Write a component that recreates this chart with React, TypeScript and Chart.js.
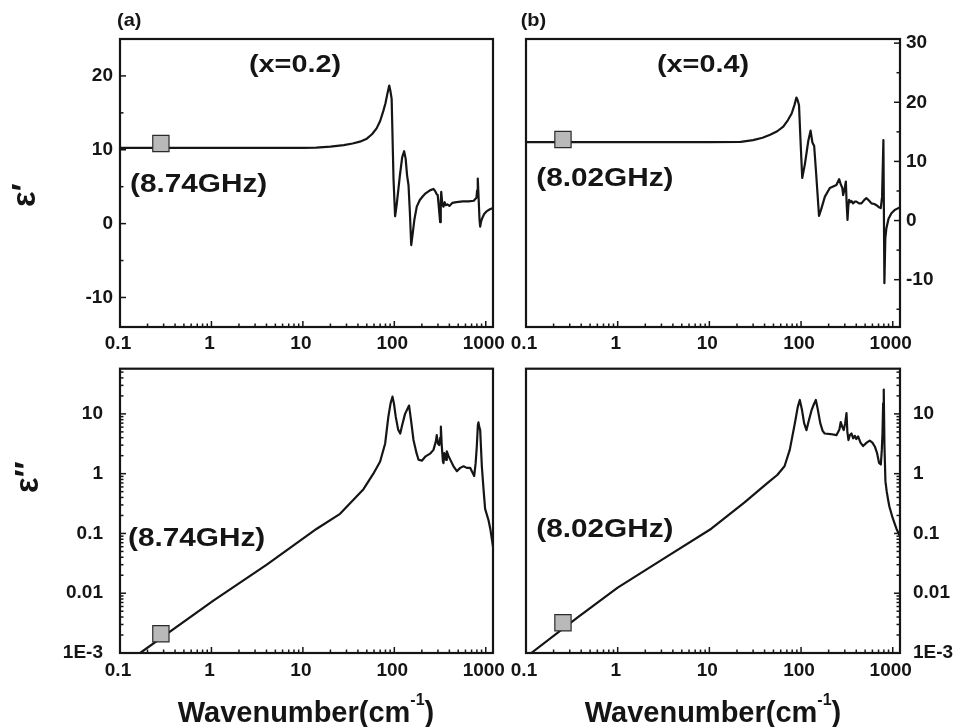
import React, { useEffect, useRef } from 'react';
import { Chart, registerables } from 'chart.js';

Chart.register(...registerables);

// ---------------- data ----------------
// (a) x = 0.2, real part
const wavenumberReA = [0.1, 1, 10, 14, 20, 28, 35, 42, 50, 57, 64, 70, 76, 80, 84, 88, 90.5, 93.5, 98, 102, 106, 115, 122, 128, 133, 138, 143, 148, 153, 158, 166, 176, 190, 205, 220, 245, 268, 280, 290, 298, 308, 317, 322, 326, 335, 345, 355, 365, 380, 400, 430, 480, 560, 650, 740, 790, 805, 818, 835, 855, 869, 890, 920, 960, 1030, 1110, 1200];
const epsilonReA = [10.27, 10.27, 10.27, 10.3, 10.42, 10.62, 10.85, 11.1, 11.5, 12.1, 12.9, 13.9, 15.3, 16.3, 17.6, 18.7, 18.0, 16.9, 6, 1.0, 2.5, 6.5, 9.0, 9.8, 8.8, 6.5, 5.2, 1.5, -2.9, -1.6, 0.6, 2.3, 3.2, 3.7, 4.1, 4.5, 4.7, 4.4, 4.0, 3.9, 2.0, 0.2, 3.0, 4.3, 2.6, 2.3, 2.9, 2.5, 2.6, 2.4, 2.8, 2.9, 3.0, 3.0, 3.1, 3.5, 4.5, 6.1, 3.5, 0.5, -0.4, 0.3, 0.8, 1.3, 1.7, 1.95, 2.1];

// (b) x = 0.4, real part
const wavenumberReB = [0.1, 10, 22, 30, 38, 46, 55, 64, 72, 79, 85, 89, 92, 95, 99, 103, 110, 120, 127, 133, 139, 146, 157, 165, 182, 206, 243, 260, 270, 282, 288, 300, 308, 314, 321, 328, 334, 345, 355, 369, 385, 402, 430, 456, 490, 516, 550, 586, 630, 664, 700, 740, 765, 791, 811, 830, 853, 900, 967, 1050, 1150, 1200];
const epsilonReB = [13.25, 13.25, 13.3, 13.6, 14.0, 14.5, 15.1, 15.9, 17.0, 18.1, 19.6, 20.8, 20.3, 19.5, 13, 7.2, 9.5, 13.5, 15.2, 13.2, 12.6, 8, 0.8, 1.8, 4.05, 5.5, 6.0, 7.0, 6.2, 5.5, 4.3, 5.5, 6.6, 3, 0.1, 2.5, 3.5, 3.1, 3.3, 2.9, 3.2, 3.2, 2.9, 2.9, 3.5, 3.8, 3.4, 2.9, 2.8, 2.6, 2.3, 2.1, 4.0, 13.6, -10.6, -3, -1.3, 0.3, 1.25, 1.8, 2.1, 2.2];

// (a) x = 0.2, imaginary part
const wavenumberImA = [0.166, 1.05, 4.03, 14.2, 25.5, 46, 59, 70, 79.4, 86, 91, 95.5, 99, 103.7, 110, 116, 122, 131, 145, 152, 162, 175, 184, 200, 220, 246, 268, 285, 291, 300, 310, 318, 323, 330, 340, 345, 352, 360, 368, 375, 390, 410, 444, 483, 525, 571, 620, 675, 705, 747, 775, 798, 820, 832, 850, 869, 906, 950, 984, 1072, 1120, 1200];
const epsilonImA = [0.001, 0.0075, 0.030, 0.12, 0.213, 0.55, 1.0, 1.6, 3.2, 8.9, 15, 19.4, 15, 8.9, 5.5, 4.7, 6.5, 10, 13.8, 8, 3.66, 2.2, 1.71, 1.65, 1.95, 2.16, 2.5, 3.5, 4.4, 3.2, 3.0, 4.0, 6.1, 3.0, 1.6, 1.5, 2.2, 2.1, 1.7, 2.36, 2.0, 1.7, 1.33, 1.1, 1.25, 1.33, 1.25, 1.25, 1.1, 0.91, 1.5, 2.85, 6.5, 7.2, 6, 5.35, 1.33, 0.5, 0.257, 0.166, 0.12, 0.06];

// (b) x = 0.4, imaginary part
const wavenumberImB = [0.114, 0.369, 1.0, 3.24, 10.5, 24.2, 43.5, 55, 66, 75.3, 85.5, 92, 96.9, 102, 108, 114.5, 121, 130, 138, 145, 152, 162, 172, 181, 210, 243, 262, 271, 282, 292, 303, 313, 320, 329, 340, 355, 370, 385, 400, 419, 445, 475, 520, 561, 600, 637, 675, 710, 741, 760, 773, 786, 798, 812, 832, 860, 889, 920, 1000, 1097, 1160, 1200];
const epsilonImB = [0.001, 0.004, 0.0124, 0.0386, 0.12, 0.332, 0.71, 0.95, 1.33, 2.5, 6.9, 13, 17.1, 12, 7, 5.35, 7.5, 11.4, 14.5, 17.1, 12, 7, 5.2, 4.7, 4.6, 4.4, 5.5, 7.3, 6.0, 5.35, 7, 10.3, 5, 3.65, 4.4, 4.7, 3.9, 4.3, 3.8, 4.2, 3.3, 2.9, 3.3, 3.57, 3.3, 2.85, 2.2, 1.51, 1.42, 2.5, 4.7, 15, 25.6, 3, 0.75, 0.5, 0.37, 0.28, 0.18, 0.12, 0.1, 0.09];

// microwave points (grey squares)
const markerWaveA = 0.28;
const markerReA = 10.85;
const markerImA = 0.0021;
const markerWaveB = 0.253;
const markerReB = 13.7;
const markerImB = 0.0032;

// ticks
const xTickValues = [0.1, 1, 10, 100, 1000];
const xTickLabels = ['0.1', '1', '10', '100', '1000'];
const realTicksA = [-10, 0, 10, 20];
const realLabelsA = ['-10', '0', '10', '20'];
const realTicksB = [-10, 0, 10, 20, 30];
const realLabelsB = ['-10', '0', '10', '20', '30'];
const logTickValues = [0.001, 0.01, 0.1, 1, 10];
const logTickLabels = ['1E-3', '0.01', '0.1', '1', '10'];

// ---------------- styling ----------------
const X_MIN = 0.1;
const X_MAX = 1200;
const INK = '#151515';
const FAMILY = '"Liberation Sans", Arial, Helvetica, sans-serif';
const MAJOR = 6;
const MINOR = 3.5;

function logMinors(min: number, max: number) {
  const out: number[] = [];
  for (let d = -4; d <= 4; d++) {
    for (let k = 2; k <= 9; k++) {
      const v = k * Math.pow(10, d);
      if (v > min * 1.0001 && v < max * 0.9999) out.push(v);
    }
  }
  return out;
}
function linMinors(min: number, max: number) {
  const out: number[] = [];
  for (let v = -35; v <= 35; v += 10) if (v > min && v < max) out.push(v);
  return out;
}

function makeFramePlugin(cfg: any) {
  return {
    id: 'frameTicks',
    afterDraw(chart: any) {
      const { ctx, chartArea: a } = chart;
      const xs = chart.scales.x;
      const ys = chart.scales.y;
      ctx.save();
      ctx.strokeStyle = INK;
      ctx.lineWidth = 1.5;
      const seg = (x1: number, y1: number, x2: number, y2: number) => {
        ctx.beginPath();
        ctx.moveTo(x1, y1);
        ctx.lineTo(x2, y2);
        ctx.stroke();
      };
      for (const v of xTickValues) {
        const p = xs.getPixelForValue(v);
        seg(p, a.bottom, p, a.bottom - MAJOR);
      }
      for (const v of logMinors(X_MIN, X_MAX)) {
        const p = xs.getPixelForValue(v);
        seg(p, a.bottom, p, a.bottom - MINOR);
      }
      const edge = cfg.yPos === 'left' ? a.left : a.right;
      const dir = cfg.yPos === 'left' ? 1 : -1;
      for (const v of cfg.yTicks) {
        const p = ys.getPixelForValue(v);
        seg(edge, p, edge + dir * MAJOR, p);
      }
      const minors = cfg.yType === 'logarithmic' ? logMinors(cfg.yMin, cfg.yMax) : linMinors(cfg.yMin, cfg.yMax);
      for (const v of minors) {
        const p = ys.getPixelForValue(v);
        seg(edge, p, edge + dir * MINOR, p);
      }
      ctx.lineWidth = 2.2;
      ctx.strokeRect(a.left, a.top, a.right - a.left, a.bottom - a.top);
      ctx.restore();
    },
  };
}

function makeTextPlugin(texts: any[]) {
  return {
    id: 'panelTexts',
    afterDraw(chart: any) {
      const ctx = chart.ctx;
      ctx.save();
      ctx.fillStyle = INK;
      ctx.textBaseline = 'alphabetic';
      ctx.textAlign = 'left';
      for (const item of texts) {
        ctx.save();
        ctx.translate(item.x, item.y);
        if (item.rot) ctx.rotate(-Math.PI / 2);
        ctx.scale(item.sx || 1, 1);
        let total = 0;
        const widths = item.parts.map((p: any) => {
          ctx.font = `bold ${p.size}px ${FAMILY}`;
          const wd = ctx.measureText(p.t).width;
          total += wd;
          return wd;
        });
        let cx = item.align === 'center' ? -total / 2 : 0;
        item.parts.forEach((p: any, i: number) => {
          ctx.font = `bold ${p.size}px ${FAMILY}`;
          ctx.fillText(p.t, cx, p.dy || 0);
          cx += widths[i];
        });
        ctx.restore();
      }
      ctx.restore();
    },
  };
}

function makeChart(canvas: HTMLCanvasElement, cfg: any) {
  const { w, h, area } = cfg;
  const yLeft = cfg.yPos === 'left';
  const yBox = yLeft ? area.l : w - area.r;
  const xBox = h - area.b;
  const tickFont = { family: FAMILY, size: 19, weight: 'bold' as const };
  const zeroPad = (s: any) => {
    s.paddingLeft = 0;
    s.paddingRight = 0;
    s.paddingTop = 0;
    s.paddingBottom = 0;
  };
  return new Chart(canvas, {
    type: 'line',
    data: {
      datasets: [
        {
          data: [{ x: cfg.markerX, y: cfg.markerY }],
          showLine: false,
          pointStyle: 'rect',
          pointRadius: 11.5,
          pointHoverRadius: 11.5,
          pointBackgroundColor: '#b9b9b9',
          pointBorderColor: '#2b2b2b',
          pointBorderWidth: 1.2,
          order: 0,
          clip: false,
        } as any,
        {
          data: cfg.xs.map((x: number, i: number) => ({ x, y: cfg.ys[i] })),
          borderColor: INK,
          borderWidth: 2.2,
          pointRadius: 0,
          tension: 0,
          fill: false,
          order: 1,
          borderJoinStyle: 'round',
        } as any,
      ],
    },
    options: {
      animation: false,
      responsive: false,
      devicePixelRatio: 1,
      events: [],
      layout: {
        padding: { left: yLeft ? 0 : area.l, right: yLeft ? w - area.r : 0, top: area.t, bottom: 0 },
      },
      plugins: { legend: { display: false }, tooltip: { enabled: false }, title: { display: false } },
      scales: {
        x: {
          type: 'logarithmic',
          position: 'bottom',
          min: X_MIN,
          max: X_MAX,
          grid: { display: false, drawTicks: false },
          border: { display: false },
          ticks: {
            autoSkip: false,
            maxRotation: 0,
            minRotation: 0,
            padding: cfg.xPad,
            labelOffset: -2,
            color: INK,
            font: tickFont,
            callback: (_v: any, i: number) => xTickLabels[i],
          },
          afterBuildTicks: (s: any) => {
            s.ticks = xTickValues.map((value) => ({ value }));
          },
          afterFit: (s: any) => {
            s.height = xBox;
            zeroPad(s);
          },
        },
        y: {
          type: cfg.yType,
          position: cfg.yPos,
          min: cfg.yMin,
          max: cfg.yMax,
          grid: { display: false, drawTicks: false },
          border: { display: false },
          ticks: {
            autoSkip: false,
            padding: cfg.yPad,
            color: INK,
            font: tickFont,
            callback: (_v: any, i: number) => cfg.yLabels[i],
          },
          afterBuildTicks: (s: any) => {
            s.ticks = cfg.yTicks.map((value: number) => ({ value }));
          },
          afterFit: (s: any) => {
            s.width = yBox;
            zeroPad(s);
          },
        },
      } as any,
    },
    plugins: [makeFramePlugin(cfg), makeTextPlugin(cfg.texts)],
  } as any);
}

const titleParts = [
  { t: 'Wavenumber(cm', size: 29 },
  { t: '-1', size: 16, dy: -17 },
  { t: ')', size: 29 },
];

const PANELS = [
  {
    key: 'a-re', left: 0, top: 0, w: 520, h: 356,
    area: { l: 120, t: 39, r: 493, b: 327 },
    yType: 'linear', yPos: 'left', yMin: -14, yMax: 25, yTicks: realTicksA, yLabels: realLabelsA, yPad: 7, xPad: 5,
    xs: wavenumberReA, ys: epsilonReA, markerX: markerWaveA, markerY: markerReA,
    texts: [
      { parts: [{ t: '(a)', size: 19 }], x: 117, y: 26, sx: 1.05 },
      { parts: [{ t: '(x=0.2)', size: 24 }], x: 295, y: 71.5, align: 'center', sx: 1.2 },
      { parts: [{ t: '(8.74GHz)', size: 25 }], x: 130, y: 191.5, sx: 1.19 },
      { parts: [{ t: 'ε′', size: 33 }], x: 35, y: 207, rot: true },
    ],
  },
  {
    key: 'b-re', left: 470, top: 0, w: 487, h: 356,
    area: { l: 56, t: 39, r: 430, b: 327 },
    yType: 'linear', yPos: 'right', yMin: -18, yMax: 30.7, yTicks: realTicksB, yLabels: realLabelsB, yPad: 6, xPad: 5,
    xs: wavenumberReB, ys: epsilonReB, markerX: markerWaveB, markerY: markerReB,
    texts: [
      { parts: [{ t: '(b)', size: 19 }], x: 50.7, y: 26, sx: 1.05 },
      { parts: [{ t: '(x=0.4)', size: 24 }], x: 233, y: 71.5, align: 'center', sx: 1.2 },
      { parts: [{ t: '(8.02GHz)', size: 25 }], x: 66.3, y: 186, sx: 1.19 },
    ],
  },
  {
    key: 'a-im', left: 0, top: 356, w: 520, h: 371,
    area: { l: 120, t: 8, r: 493, b: 297 },
    yType: 'logarithmic', yPos: 'left', yMin: 0.001, yMax: 57, yTicks: logTickValues, yLabels: logTickLabels, yPad: 17, xPad: 6,
    xs: wavenumberImA, ys: epsilonImA, markerX: markerWaveA, markerY: markerImA,
    texts: [
      { parts: [{ t: '(8.74GHz)', size: 25 }], x: 128, y: 190, sx: 1.19 },
      { parts: [{ t: 'ε″', size: 33 }], x: 38, y: 137, rot: true },
      { parts: titleParts, x: 306, y: 366, align: 'center' },
    ],
  },
  {
    key: 'b-im', left: 470, top: 356, w: 487, h: 371,
    area: { l: 56, t: 8, r: 430, b: 297 },
    yType: 'logarithmic', yPos: 'right', yMin: 0.001, yMax: 57, yTicks: logTickValues, yLabels: logTickLabels, yPad: 13, xPad: 6,
    xs: wavenumberImB, ys: epsilonImB, markerX: markerWaveB, markerY: markerImB,
    texts: [
      { parts: [{ t: '(8.02GHz)', size: 25 }], x: 66.3, y: 181, sx: 1.19 },
      { parts: titleParts, x: 243, y: 366, align: 'center' },
    ],
  },
];

function Panel({ cfg }: { cfg: any }) {
  const ref = useRef<HTMLCanvasElement | null>(null);
  useEffect(() => {
    if (!ref.current) return;
    const chart = makeChart(ref.current, cfg);
    return () => chart.destroy();
  }, [cfg]);
  return (
    <canvas
      ref={ref}
      width={cfg.w}
      height={cfg.h}
      style={{ position: 'absolute', left: cfg.left, top: cfg.top, width: cfg.w, height: cfg.h }}
    />
  );
}

export default function App() {
  return (
    <div style={{ position: 'absolute', left: 0, top: 0, width: 957, height: 727, background: '#ffffff', overflow: 'hidden' }}>
      {PANELS.map((p) => (
        <Panel key={p.key} cfg={p} />
      ))}
    </div>
  );
}
